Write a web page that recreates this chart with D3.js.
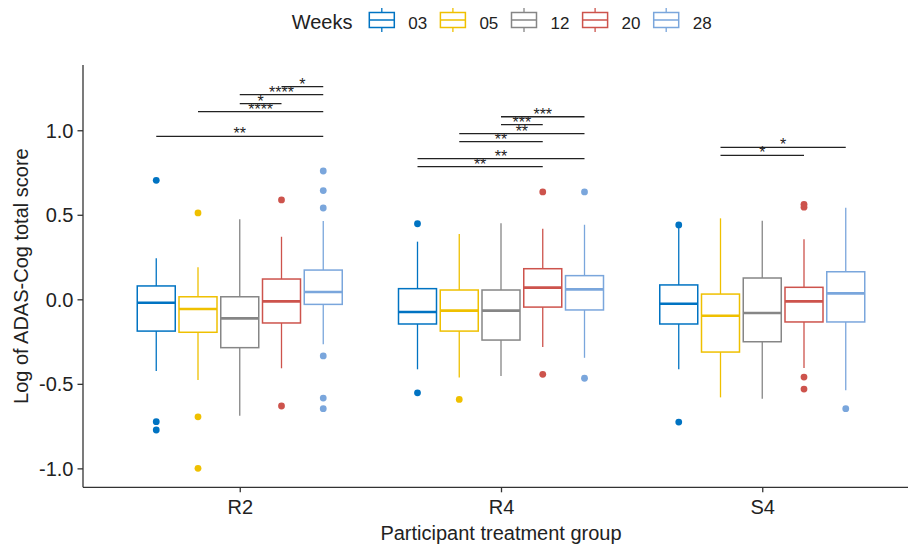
<!DOCTYPE html>
<html>
<head>
<meta charset="utf-8">
<script src="https://cdn.jsdelivr.net/npm/d3@7"></script>
<style>
  html, body { margin: 0; padding: 0; background: #fff; }
  svg { display: block; font-family: "Liberation Sans", Arial, sans-serif; }
</style>
</head>
<body>
<div id="chart"></div>
<script>
// groups on the x axis, weeks inside each group
const groups = ["R2", "R4", "S4"];
const weeks = ["03", "05", "12", "20", "28"];
const weekColors = ["#0073C2", "#EFC000", "#868686", "#CD534C", "#7AA6DC"];

// box stats, one row per group, one column per week
const lower = [
    [-0.424, -0.478, -0.689, -0.408, -0.266],
    [-0.414, -0.462, -0.454, -0.282, -0.346],
    [-0.414, -0.580, -0.588, -0.406, -0.538]
];
const q1 = [
    [-0.188, -0.195, -0.286, -0.140, -0.030],
    [-0.146, -0.188, -0.241, -0.046, -0.063],
    [-0.146, -0.312, -0.251, -0.134, -0.134]
];
const median = [
    [-0.020, -0.057, -0.113, -0.012, 0.043],
    [-0.075, -0.067, -0.067, 0.069, 0.059],
    [-0.026, -0.097, -0.081, -0.012, 0.035]
];
const q3 = [
    [0.079, 0.015, 0.015, 0.120, 0.173],
    [0.063, 0.055, 0.055, 0.181, 0.140],
    [0.085, 0.031, 0.126, 0.071, 0.163]
];
const upper = [
    [0.243, 0.189, 0.473, 0.370, 0.463],
    [0.341, 0.386, 0.450, 0.418, 0.441],
    [0.430, 0.479, 0.465, 0.355, 0.542]
];
const outliers = [
    [[0.704, -0.724, -0.773], [0.511, -0.695, -1.0], [], [0.588, -0.631], [0.759, 0.643, 0.540, -0.335, -0.584, -0.647]],
    [[0.447, -0.553], [-0.592], [], [0.635, -0.444], [0.635, -0.467]],
    [[0.440, -0.726], [], [], [0.562, 0.545, -0.460, -0.531], [-0.647]]
];

// significance brackets: group, week from, week to, height, label
const brackets = [
    ["R2", "03", "28", 0.964, "**"],
    ["R2", "05", "28", 1.110, "****"],
    ["R2", "12", "20", 1.157, "*"],
    ["R2", "12", "28", 1.211, "****"],
    ["R2", "20", "28", 1.258, "*"],
    ["R4", "03", "20", 0.785, "**"],
    ["R4", "03", "28", 0.832, "**"],
    ["R4", "05", "20", 0.933, "**"],
    ["R4", "05", "28", 0.980, "**"],
    ["R4", "12", "20", 1.033, "***"],
    ["R4", "12", "28", 1.080, "***"],
    ["S4", "05", "20", 0.852, "*"],
    ["S4", "05", "28", 0.899, "*"]
];

const yTicks = [-1.0, -0.5, 0.0, 0.5, 1.0];

const W = 908, H = 545;
const pLeft = 83, pRight = 919, pTop = 65, pBottom = 487.3;

const svg = d3.select("#chart").append("svg").attr("width", W).attr("height", H);
svg.append("rect").attr("width", W).attr("height", H).attr("fill", "#fff");

const x = d3.scalePoint().domain(groups).range([pLeft, pRight]).padding(0.6);
const xin = d3.scalePoint().domain(weeks).range([-83.5, 83.5]);
const y = d3.scaleLinear().domain([-1.112, 1.386]).range([pBottom, pTop]);
const color = d3.scaleOrdinal().domain(weeks).range(weekColors);
const boxW = 38;

// flatten box rows
const boxes = [];
groups.forEach((g, gi) => {
    weeks.forEach((w, wi) => {
        boxes.push({
            g, w, cx: x(g) + xin(w),
            lo: lower[gi][wi], q1: q1[gi][wi], med: median[gi][wi],
            q3: q3[gi][wi], hi: upper[gi][wi], out: outliers[gi][wi]
        });
    });
});

const plot = svg.append("g");

const bx = plot.selectAll("g.box").data(boxes).enter().append("g").attr("class", "box");
bx.append("line")
    .attr("x1", d => d.cx).attr("x2", d => d.cx)
    .attr("y1", d => y(d.q3)).attr("y2", d => y(d.hi))
    .attr("stroke", d => color(d.w)).attr("stroke-width", 1.3);
bx.append("line")
    .attr("x1", d => d.cx).attr("x2", d => d.cx)
    .attr("y1", d => y(d.q1)).attr("y2", d => y(d.lo))
    .attr("stroke", d => color(d.w)).attr("stroke-width", 1.3);
bx.append("rect")
    .attr("x", d => d.cx - boxW / 2).attr("width", boxW)
    .attr("y", d => y(d.q3)).attr("height", d => y(d.q1) - y(d.q3))
    .attr("fill", "#fff").attr("stroke", d => color(d.w)).attr("stroke-width", 1.5);
bx.append("line")
    .attr("x1", d => d.cx - boxW / 2).attr("x2", d => d.cx + boxW / 2)
    .attr("y1", d => y(d.med)).attr("y2", d => y(d.med))
    .attr("stroke", d => color(d.w)).attr("stroke-width", 2.6);
bx.selectAll("circle").data(d => d.out.map(v => ({ v, cx: d.cx, w: d.w }))).enter()
    .append("circle")
    .attr("cx", d => d.cx).attr("cy", d => y(d.v)).attr("r", 3.4)
    .attr("fill", d => color(d.w));

// brackets
const br = plot.selectAll("g.br").data(brackets).enter().append("g").attr("class", "br");
br.append("line")
    .attr("x1", d => x(d[0]) + xin(d[1])).attr("x2", d => x(d[0]) + xin(d[2]))
    .attr("y1", d => y(d[3])).attr("y2", d => y(d[3]))
    .attr("stroke", "#222").attr("stroke-width", 1.3);
br.append("text")
    .attr("x", d => x(d[0]) + (xin(d[1]) + xin(d[2])) / 2)
    .attr("y", d => y(d[3]) + 3)
    .attr("text-anchor", "middle").attr("font-size", 16).attr("fill", "#222")
    .text(d => d[4]);

// axes (left + bottom only), hyphen minus like the reference
const fmt = d => d3.format(".1f")(d).replace("\u2212", "-");
const axisColor = "#333";
const yAxis = svg.append("g").attr("transform", `translate(${pLeft},0)`)
    .call(d3.axisLeft(y).tickValues(yTicks).tickFormat(fmt).tickSize(5.5).tickPadding(4));
yAxis.select(".domain").attr("d", `M0,${pTop}V${pBottom}`);
const xAxis = svg.append("g").attr("transform", `translate(0,${pBottom})`)
    .call(d3.axisBottom(x).tickSize(5).tickPadding(8));
xAxis.select(".domain").attr("d", `M${pLeft},0H${pRight}`);
[xAxis, yAxis].forEach(a => {
    a.select(".domain").attr("stroke", axisColor).attr("stroke-width", 1.3);
    a.selectAll(".tick line").attr("stroke", axisColor).attr("stroke-width", 1.3);
    a.selectAll(".tick text").attr("fill", "#222").attr("font-size", 20)
        .attr("font-family", "Liberation Sans, Arial, sans-serif");
});
yAxis.selectAll(".tick text").attr("dy", "0.35em");

svg.append("text")
    .attr("x", (pLeft + pRight) / 2).attr("y", 540)
    .attr("text-anchor", "middle").attr("font-size", 20).attr("fill", "#222")
    .text("Participant treatment group");
svg.append("text")
    .attr("transform", `translate(28,${(pTop + pBottom) / 2}) rotate(-90)`)
    .attr("text-anchor", "middle").attr("font-size", 20).attr("fill", "#222")
    .text("Log of ADAS-Cog total score");

// legend
const leg = svg.append("g");
leg.append("text").attr("x", 291.7).attr("y", 29).attr("font-size", 20).attr("fill", "#222").text("Weeks");
const keyX = d3.scalePoint().domain(weeks).range([381.8, 666.2]);
const key = leg.selectAll("g.key").data(weeks).enter().append("g")
    .attr("transform", d => `translate(${keyX(d)},20)`);
key.append("line").attr("y1", -12).attr("y2", 12).attr("stroke", d => color(d)).attr("stroke-width", 1.3);
key.append("rect").attr("x", -12.5).attr("y", -7.5).attr("width", 25).attr("height", 15)
    .attr("fill", "#fff").attr("stroke", d => color(d)).attr("stroke-width", 1.5);
key.append("line").attr("x1", -12.5).attr("x2", 12.5).attr("stroke", d => color(d)).attr("stroke-width", 1.5);
key.append("text").attr("x", 26.5).attr("y", 8.5).attr("font-size", 17).attr("fill", "#222").text(d => d);
</script>
</body>
</html>
